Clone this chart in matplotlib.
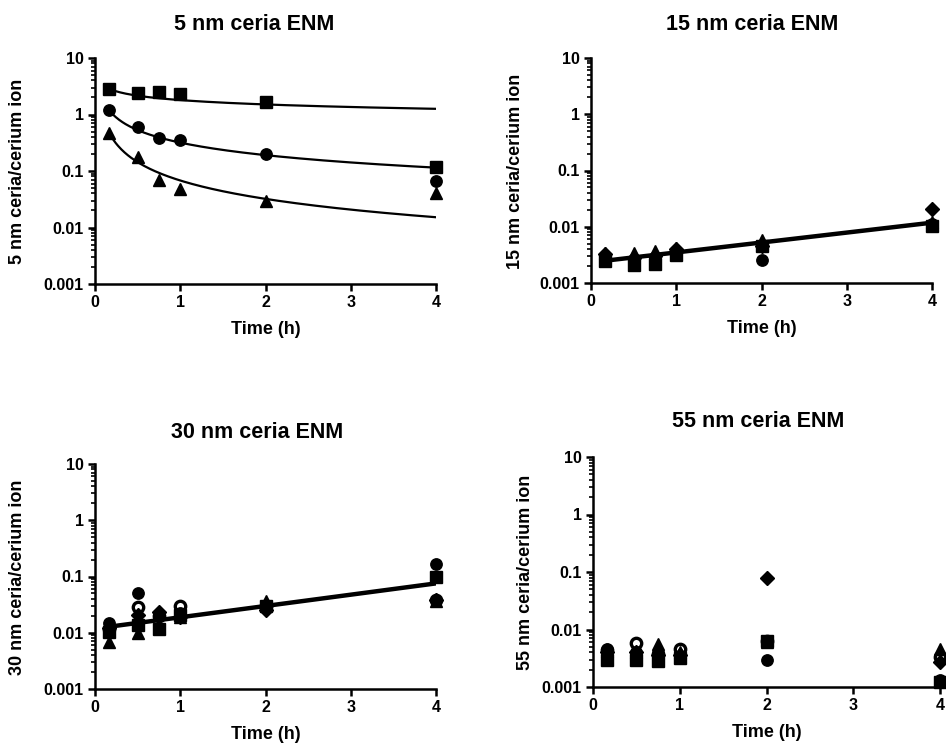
import numpy as np
import matplotlib
matplotlib.use("Agg")
import matplotlib.pyplot as plt
from matplotlib.ticker import FixedLocator, FixedFormatter, LogLocator, NullFormatter

plt.rcParams['font.family'] = ['Liberation Sans', 'DejaVu Sans']
plt.rcParams['font.weight'] = 'bold'

# ---------------- data ----------------
times = [0.167, 0.5, 0.75, 1.0, 2.0, 4.0]

titles = ["5 nm ceria ENM", "15 nm ceria ENM", "30 nm ceria ENM", "55 nm ceria ENM"]
ylabels = ["5 nm ceria/cerium ion", "15 nm ceria/cerium ion",
           "30 nm ceria/cerium ion", "55 nm ceria/cerium ion"]
xlabel = "Time (h)"
ytick_vals = [0.001, 0.01, 0.1, 1, 10]
ytick_labels = ["0.001", "0.01", "0.1", "1", "10"]
xtick_vals = [0, 1, 2, 3, 4]

# 5 nm
nm5_square = [2.8, 2.44, 2.5, 2.27, 1.66, 0.116]
nm5_circle = [1.19, 0.60, 0.38, 0.36, 0.20, 0.067]
nm5_triangle = [0.47, 0.176, 0.069, 0.048, 0.030, 0.040]
# power-law fits y = a * t^b  (square, circle, triangle)
nm5_fit_a = [1.80, 0.318, 0.0679]
nm5_fit_b = [-0.257, -0.736, -1.08]

# 15 nm
nm15_square = [0.0025, 0.0021, 0.0022, 0.0031, 0.0045, 0.0103]
nm15_circle = [0.0026, 0.0025, 0.0026, 0.0035, 0.0026, 0.0110]
nm15_triangle = [0.0034, 0.0034, 0.0037, 0.0042, 0.0057, 0.0122]
nm15_diamond = [0.0033, 0.0028, 0.0030, 0.0040, 0.0046, 0.0205]
# log-linear fit: log10(y) = c + m t
nm15_fit = (-2.633, 0.1764)

# 30 nm
nm30_square = [0.0104, 0.0137, 0.0119, 0.0206, 0.030, 0.096]
nm30_circle = [0.0149, 0.050, 0.020, 0.022, 0.030, 0.166]
nm30_triangle = [0.0069, 0.010, 0.023, 0.019, 0.036, 0.037]
nm30_diamond = [0.0121, 0.0206, 0.023, 0.019, 0.0254, 0.038]
nm30_open = [0.0118, 0.029, 0.020, 0.0297, 0.030, 0.038]
nm30_fit = (-1.926, 0.2009)

# 55 nm
nm55_square = [0.0030, 0.0029, 0.0028, 0.0032, 0.0063, 0.0012]
nm55_circle = [0.0045, 0.0040, 0.0039, 0.0033, 0.0029, 0.00135]
nm55_triangle = [0.0042, 0.0040, 0.0056, 0.0040, 0.0060, 0.0045]
nm55_diamond = [0.0040, 0.0041, 0.0036, 0.0036, 0.078, 0.0027]
nm55_open = [0.0044, 0.0059, 0.0037, 0.0045, 0.0062, 0.0033]

# ---------------- layout ----------------
W, H = 946, 744
fig = plt.figure(figsize=(W / 100, H / 100), dpi=100)

def px_axes(x0, x1, ytop, ybot):
    return fig.add_axes([x0 / W, 1 - ybot / H, (x1 - x0) / W, (ybot - ytop) / H])

ax1 = px_axes(95, 436, 58, 284)
ax2 = px_axes(591, 932, 58, 283)
ax3 = px_axes(95, 436, 464, 689)
ax4 = px_axes(593, 940, 457, 687)
axes = [ax1, ax2, ax3, ax4]

title_pos = [(254, 24), (752, 24), (257, 432), (758, 421)]
ylab_pos = [(18, 171), (516, 171), (18, 577), (526, 572)]

def style(ax):
    ax.set_yscale('log')
    ax.set_ylim(0.001, 10)
    ax.set_xlim(0, 4)
    ax.spines['top'].set_visible(False)
    ax.spines['right'].set_visible(False)
    for s in ('left', 'bottom'):
        ax.spines[s].set_linewidth(1.8)
    ax.yaxis.set_major_locator(FixedLocator(ytick_vals))
    ax.yaxis.set_major_formatter(FixedFormatter(ytick_labels))
    ax.yaxis.set_minor_locator(LogLocator(base=10, subs=np.arange(2, 10)))
    ax.yaxis.set_minor_formatter(NullFormatter())
    ax.set_xticks(xtick_vals)
    ax.tick_params(which='major', direction='out', length=5, width=1.8,
                   labelsize=11.5, pad=3)
    ax.tick_params(which='minor', direction='out', length=3, width=1.2)
    for lab in ax.get_xticklabels() + ax.get_yticklabels():
        lab.set_fontweight('bold')
    ax.set_xlabel(xlabel, fontsize=13, fontweight='bold', labelpad=8)

for ax, t, yl, tp, yp in zip(axes, titles, ylabels, title_pos, ylab_pos):
    style(ax)
    fig.text(tp[0] / W, 1 - tp[1] / H, t, ha='center', va='center',
             fontsize=15.5, fontweight='bold')
    fig.text(yp[0] / W, 1 - yp[1] / H, yl, ha='center', va='center',
             rotation=90, fontsize=13, fontweight='bold')

ms = 8.2

def pts(ax, y, marker, open_=False, size=ms, z=3):
    if open_:
        ax.plot(times, y, marker=marker, markersize=size, markerfacecolor='white',
                markeredgecolor='black', markeredgewidth=2.4, color='black',
                linestyle='none', clip_on=False, zorder=z)
    else:
        ax.plot(times, y, marker=marker, markersize=size, color='black',
                linestyle='none', clip_on=False, zorder=z)

# panel 1
tfit = np.linspace(times[0], times[-1], 300)
for a, b in zip(nm5_fit_a, nm5_fit_b):
    ax1.plot(tfit, a * tfit ** b, color='black', lw=1.6, zorder=2)
pts(ax1, nm5_square, 's')
pts(ax1, nm5_circle, 'o')
pts(ax1, nm5_triangle, '^', size=8.8)

# panel 2
ax2.plot(tfit, 10 ** (nm15_fit[0] + nm15_fit[1] * tfit), color='black', lw=3.2, zorder=2)
pts(ax2, nm15_square, 's')
pts(ax2, nm15_circle, 'o')
pts(ax2, nm15_triangle, '^', size=8.8)
pts(ax2, nm15_diamond, 'D', size=7)

# panel 3
ax3.plot(tfit, 10 ** (nm30_fit[0] + nm30_fit[1] * tfit), color='black', lw=3.2, zorder=2)
pts(ax3, nm30_open, 'o', open_=True, size=7.5, z=2.5)
pts(ax3, nm30_square, 's')
pts(ax3, nm30_circle, 'o')
pts(ax3, nm30_triangle, '^', size=8.8)
pts(ax3, nm30_diamond, 'D', size=7)

# panel 4
pts(ax4, nm55_open, 'o', open_=True, size=7.5, z=2.5)
pts(ax4, nm55_square, 's')
pts(ax4, nm55_circle, 'o')
pts(ax4, nm55_triangle, '^', size=8.8)
pts(ax4, nm55_diamond, 'D', size=7)

fig.savefig("out.png", dpi=100)
